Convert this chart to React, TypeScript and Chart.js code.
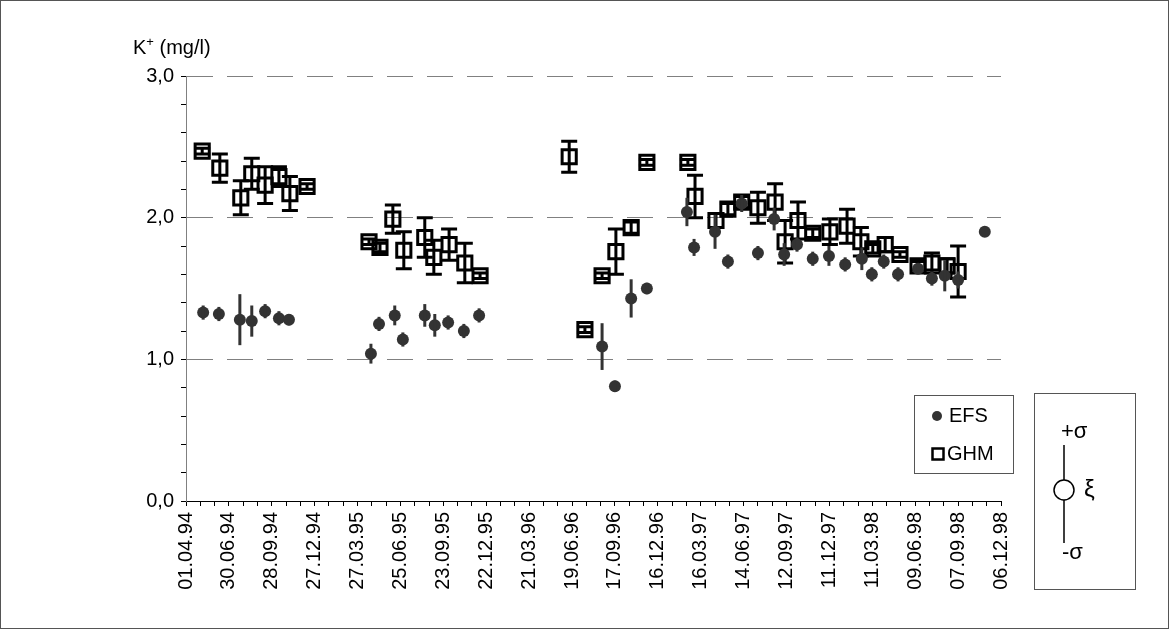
import React, { useEffect, useRef } from 'react';
import { Chart, registerables } from 'chart.js';

Chart.register(...registerables);

// x values are days counted from 01.04.94
const xTickLabels = [
  '01.04.94', '30.06.94', '28.09.94', '27.12.94', '27.03.95', '25.06.95', '23.09.95',
  '22.12.95', '21.03.96', '19.06.96', '17.09.96', '16.12.96', '16.03.97', '14.06.97',
  '12.09.97', '11.12.97', '11.03.98', '09.06.98', '07.09.98', '06.12.98',
];
const yTickLabels = ['0,0', '1,0', '2,0', '3,0'];

const efsDays = [
  36, 69, 113, 138, 166, 195, 216,
  388, 405, 438, 455, 501, 522, 550, 583, 615,
  873, 900, 934, 967,
  1051, 1066, 1110, 1137, 1166, 1200, 1234, 1255, 1282, 1315, 1349, 1383, 1418, 1439, 1464,
  1494, 1536, 1565, 1592, 1620, 1676,
];
const efsValues = [
  1.33, 1.32, 1.28, 1.27, 1.34, 1.29, 1.28,
  1.04, 1.25, 1.31, 1.14, 1.31, 1.24, 1.26, 1.2, 1.31,
  1.09, 0.81, 1.43, 1.5,
  2.04, 1.79, 1.9, 1.69, 2.1, 1.75, 1.99, 1.74, 1.81, 1.71, 1.73, 1.67, 1.71, 1.6, 1.69,
  1.6, 1.64, 1.57, 1.59, 1.56, 1.9,
];
const efsSigma = [
  0.05, 0.05, 0.18, 0.11, 0.05, 0.05, 0.04,
  0.07, 0.05, 0.07, 0.05, 0.08, 0.08, 0.05, 0.05, 0.05,
  0.165, 0.04, 0.135, 0.04,
  0.1, 0.06, 0.12, 0.05, 0.06, 0.05, 0.08, 0.08, 0.05, 0.05, 0.07, 0.05, 0.08, 0.05, 0.05,
  0.05, 0.04, 0.05, 0.11, 0.06, 0,
];

const ghmDays = [
  34, 71, 115, 138, 166, 195, 218, 254,
  384, 407, 434, 457, 501, 520, 552, 585, 617,
  804, 837, 873, 902, 934, 967,
  1053, 1068, 1112, 1137, 1166, 1200, 1236, 1257, 1284, 1315, 1351, 1387, 1416, 1441, 1467,
  1498, 1536, 1565, 1597, 1620,
];
const ghmValues = [
  2.47, 2.35, 2.14, 2.31, 2.23, 2.29, 2.17, 2.22,
  1.83, 1.79, 1.99, 1.77, 1.86, 1.72, 1.81, 1.68, 1.59,
  2.43, 1.21, 1.59, 1.76, 1.93, 2.39,
  2.39, 2.15, 1.98, 2.06, 2.11, 2.07, 2.11, 1.83, 1.98, 1.89, 1.9, 1.94, 1.83, 1.78, 1.81,
  1.74, 1.66, 1.68, 1.66, 1.62,
];
const ghmSigma = [
  0.02, 0.1, 0.12, 0.11, 0.13, 0.07, 0.12, 0.02,
  0.02, 0.03, 0.1, 0.13, 0.14, 0.12, 0.11, 0.14, 0.02,
  0.11, 0.02, 0.02, 0.16, 0.04, 0.02,
  0.02, 0.15, 0.05, 0.04, 0.04, 0.11, 0.13, 0.15, 0.13, 0.03, 0.09, 0.12, 0.1, 0.03, 0.05,
  0.02, 0.03, 0.07, 0.05, 0.18,
];

const W = 1169;
const H = 629;
const FONT = '"Liberation Sans", Arial, sans-serif';
const FS = 20;

export default function App() {
  const ref = useRef<HTMLCanvasElement>(null);

  useEffect(() => {
    document.body.style.margin = '0';
    const canvas = ref.current;
    if (!canvas) return;

    const errorBars = {
      id: 'errorBars',
      afterDatasetDraw(chart: any, args: any) {
        const ds = chart.data.datasets[args.index];
        const sig: number[] | undefined = ds.sigma;
        if (!sig) return;
        const xs = chart.scales.x;
        const ys = chart.scales.y;
        const ctx = chart.ctx;
        ctx.save();
        ctx.strokeStyle = ds.errColor;
        ctx.lineWidth = 3;
        ctx.lineCap = 'butt';
        ds.data.forEach((p: any, i: number) => {
          const s = sig[i];
          if (!s) return;
          const px = xs.getPixelForValue(p.x);
          const top = ys.getPixelForValue(p.y + s);
          const bot = ys.getPixelForValue(p.y - s);
          ctx.beginPath();
          ctx.moveTo(px, top);
          ctx.lineTo(px, bot);
          if (ds.cap) {
            ctx.moveTo(px - ds.cap, top);
            ctx.lineTo(px + ds.cap, top);
            ctx.moveTo(px - ds.cap, bot);
            ctx.lineTo(px + ds.cap, bot);
          }
          ctx.stroke();
        });
        ctx.restore();
      },
    };

    const decorations = {
      id: 'decorations',
      afterDraw(chart: any) {
        const ctx = chart.ctx;
        ctx.save();
        // outer frame
        ctx.strokeStyle = '#555';
        ctx.lineWidth = 1;
        ctx.strokeRect(0.5, 0.5, W - 1, H - 1);

        // axis title K+ (mg/l)
        ctx.fillStyle = '#000';
        ctx.textBaseline = 'alphabetic';
        ctx.textAlign = 'left';
        ctx.font = `${FS}px ${FONT}`;
        const tx = 133;
        const ty = 54;
        ctx.fillText('K', tx, ty);
        const kw = ctx.measureText('K').width;
        ctx.font = `13px ${FONT}`;
        ctx.fillText('+', tx + kw, ty - 8);
        const pw = ctx.measureText('+').width;
        ctx.font = `${FS}px ${FONT}`;
        ctx.fillText(' (mg/l)', tx + kw + pw, ty);

        // legend box
        ctx.strokeStyle = '#555';
        ctx.lineWidth = 1;
        ctx.strokeRect(914.5, 395.5, 99, 78);
        ctx.fillStyle = '#333';
        ctx.beginPath();
        ctx.arc(937, 416, 5, 0, Math.PI * 2);
        ctx.fill();
        ctx.strokeStyle = '#000';
        ctx.lineWidth = 2.5;
        ctx.strokeRect(932.5, 448.5, 11, 11);
        ctx.fillStyle = '#000';
        ctx.textBaseline = 'middle';
        ctx.font = `${FS}px ${FONT}`;
        ctx.fillText('EFS', 949, 416);
        ctx.fillText('GHM', 947, 454);

        // sigma key box
        ctx.strokeStyle = '#555';
        ctx.lineWidth = 1;
        ctx.strokeRect(1034.5, 393.5, 101, 196);
        ctx.font = `22px ${FONT}`;
        ctx.fillText('+\u03C3', 1061, 432);
        ctx.fillText('-\u03C3', 1062, 553);
        ctx.font = `24px ${FONT}`;
        ctx.fillText('\u03BE', 1084, 490);
        ctx.strokeStyle = '#000';
        ctx.lineWidth = 1.5;
        ctx.beginPath();
        ctx.moveTo(1064, 445);
        ctx.lineTo(1064, 480);
        ctx.moveTo(1064, 500);
        ctx.lineTo(1064, 543);
        ctx.stroke();
        ctx.beginPath();
        ctx.arc(1064, 490, 10, 0, Math.PI * 2);
        ctx.fillStyle = '#fff';
        ctx.fill();
        ctx.stroke();
        ctx.restore();
      },
    };

    const chart = new Chart(canvas, {
      type: 'scatter',
      data: {
        datasets: [
          {
            label: 'EFS',
            data: efsDays.map((d, i) => ({ x: d, y: efsValues[i] })),
            sigma: efsSigma,
            errColor: '#333',
            cap: 0,
            pointStyle: 'circle',
            pointRadius: 6,
            pointBackgroundColor: '#333',
            pointBorderColor: '#333',
            pointBorderWidth: 0,
            showLine: false,
          } as any,
          {
            label: 'GHM',
            data: ghmDays.map((d, i) => ({ x: d, y: ghmValues[i] })),
            sigma: ghmSigma,
            errColor: '#000',
            cap: 8,
            pointStyle: 'rect',
            pointRadius: 10,
            pointBackgroundColor: 'rgba(0,0,0,0)',
            pointBorderColor: '#000',
            pointBorderWidth: 3,
            showLine: false,
          } as any,
        ],
      },
      options: {
        responsive: false,
        animation: false,
        events: [],
        layout: { padding: { left: 0, top: 76, right: 168, bottom: 0 } },
        plugins: {
          legend: { display: false },
          tooltip: { enabled: false },
          title: { display: false },
        },
        scales: {
          x: {
            type: 'linear',
            min: 0,
            max: 1710,
            afterFit: (s: any) => {
              s.height = H - 501;
            },
            ticks: {
              stepSize: 30,
              autoSkip: false,
              minRotation: 90,
              maxRotation: 90,
              padding: 6,
              color: '#000',
              font: { family: FONT, size: FS },
              callback: (v: any) => {
                const n = Number(v);
                return n % 90 === 0 ? xTickLabels[n / 90] : '';
              },
            },
            grid: {
              drawOnChartArea: false,
              tickLength: 5,
              tickColor: '#000',
              lineWidth: 1,
            },
            border: { display: true, color: '#000', width: 1 },
          },
          y: {
            type: 'linear',
            min: 0,
            max: 3,
            afterFit: (s: any) => {
              s.width = 186;
            },
            ticks: {
              stepSize: 0.2,
              autoSkip: false,
              padding: 7,
              color: '#000',
              font: { family: FONT, size: FS },
              callback: (v: any) => {
                const r = Math.round(Number(v) * 5);
                return r % 5 === 0 ? yTickLabels[r / 5] : '';
              },
            },
            grid: {
              color: (c: any) => {
                const v = c.tick ? c.tick.value : 0;
                const r = Math.round(v * 5);
                return r % 5 === 0 && r > 0 ? '#808080' : 'rgba(0,0,0,0)';
              },
              tickColor: '#000',
              tickLength: 5,
              lineWidth: 1,
            },
            border: { display: true, color: '#808080', width: 1, dash: [26, 14] },
          },
        },
      },
      plugins: [errorBars, decorations],
    } as any);

    return () => chart.destroy();
  }, []);

  return (
    <div style={{ width: W, height: H, position: 'relative', background: '#fff' }}>
      <canvas ref={ref} width={W} height={H} style={{ display: 'block' }} />
    </div>
  );
}
